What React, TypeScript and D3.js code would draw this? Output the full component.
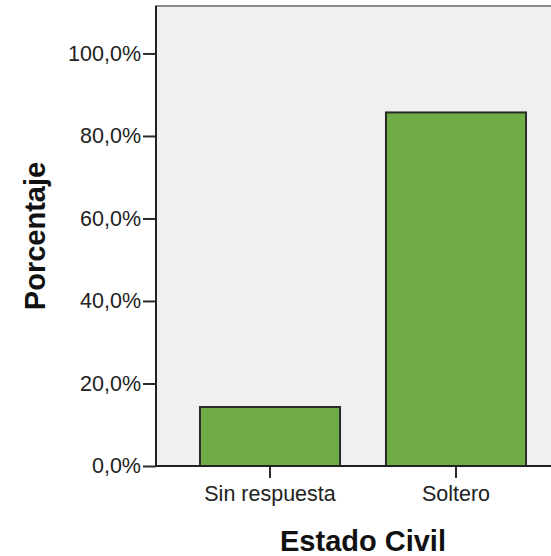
import { useEffect, useRef } from 'react'
import * as d3 from 'd3'

const categories = ['Sin respuesta', 'Soltero']
const percentages = [14.3, 85.7]
const yTicks = [0, 20, 40, 60, 80, 100]
const xTitle = 'Estado Civil'
const yTitle = 'Porcentaje'

export default function App() {
  const svgRef = useRef<SVGSVGElement>(null)

  useEffect(() => {
    if (!svgRef.current) return
    const width = 551
    const height = 556
    const plot = { left: 156, right: 570, top: 6, bottom: 466 }
    const font = '"Liberation Sans", Arial, sans-serif'

    const svg = d3.select(svgRef.current)
    svg.selectAll('*').remove()
    svg.attr('width', width).attr('height', height).attr('viewBox', [0, 0, width, height])

    const x = d3.scaleBand<string>()
      .domain(categories)
      .range([plot.left, plot.right])
      .paddingInner(0.247)
      .paddingOuter(0.2365)

    const y = d3.scaleLinear()
      .domain([0, 111.5])
      .range([plot.bottom, plot.top])

    // plot background
    svg.append('rect')
      .attr('x', plot.left)
      .attr('y', plot.top)
      .attr('width', plot.right - plot.left)
      .attr('height', plot.bottom - plot.top)
      .attr('fill', '#f0f0f0')
      .attr('stroke', '#8a8a8a')
      .attr('stroke-width', 2)

    // bars
    svg.append('g')
      .selectAll('rect')
      .data(percentages)
      .join('rect')
      .attr('x', (_, i) => x(categories[i])!)
      .attr('y', d => y(d))
      .attr('width', x.bandwidth())
      .attr('height', d => y(0) - y(d))
      .attr('fill', '#6fab47')
      .attr('stroke', '#2b2b2b')
      .attr('stroke-width', 2)

    // y axis
    const yAxis = svg.append('g')
      .attr('transform', `translate(${plot.left},0)`)
      .call(d3.axisLeft(y).tickValues(yTicks).tickSize(13).tickPadding(2)
        .tickFormat(d => `${(+d).toFixed(1).replace('.', ',')}%`))
    yAxis.select('.domain').remove()
    yAxis.selectAll('line').attr('stroke', '#2b2b2b').attr('stroke-width', 2)
    yAxis.selectAll('text')
      .attr('font-family', font)
      .attr('font-size', 21.5)
      .attr('fill', '#222')

    // x axis
    const xAxis = svg.append('g')
      .attr('transform', `translate(0,${plot.bottom})`)
      .call(d3.axisBottom(x).tickSize(12).tickPadding(8))
    xAxis.select('.domain').remove()
    xAxis.selectAll('line').attr('stroke', '#2b2b2b').attr('stroke-width', 2)
    xAxis.selectAll('text')
      .attr('font-family', font)
      .attr('font-size', 21.5)
      .attr('fill', '#222')

    // axis lines
    svg.append('line')
      .attr('x1', plot.left).attr('x2', plot.left)
      .attr('y1', plot.top).attr('y2', plot.bottom)
      .attr('stroke', '#222').attr('stroke-width', 2)
    svg.append('line')
      .attr('x1', plot.left).attr('x2', plot.right)
      .attr('y1', plot.bottom).attr('y2', plot.bottom)
      .attr('stroke', '#222').attr('stroke-width', 2)

    // titles
    svg.append('text')
      .text(xTitle)
      .attr('x', (plot.left + plot.right) / 2)
      .attr('y', 551)
      .attr('text-anchor', 'middle')
      .attr('font-family', font)
      .attr('font-weight', 'bold')
      .attr('font-size', 29)
      .attr('fill', '#111')

    svg.append('text')
      .text(yTitle)
      .attr('transform', `translate(45,${(plot.top + plot.bottom) / 2}) rotate(-90)`)
      .attr('text-anchor', 'middle')
      .attr('font-family', font)
      .attr('font-weight', 'bold')
      .attr('font-size', 29)
      .attr('fill', '#111')
  }, [])

  return (
    <svg ref={svgRef} style={{ position: 'absolute', left: 0, top: 0, background: '#fff' }}></svg>
  )
}
